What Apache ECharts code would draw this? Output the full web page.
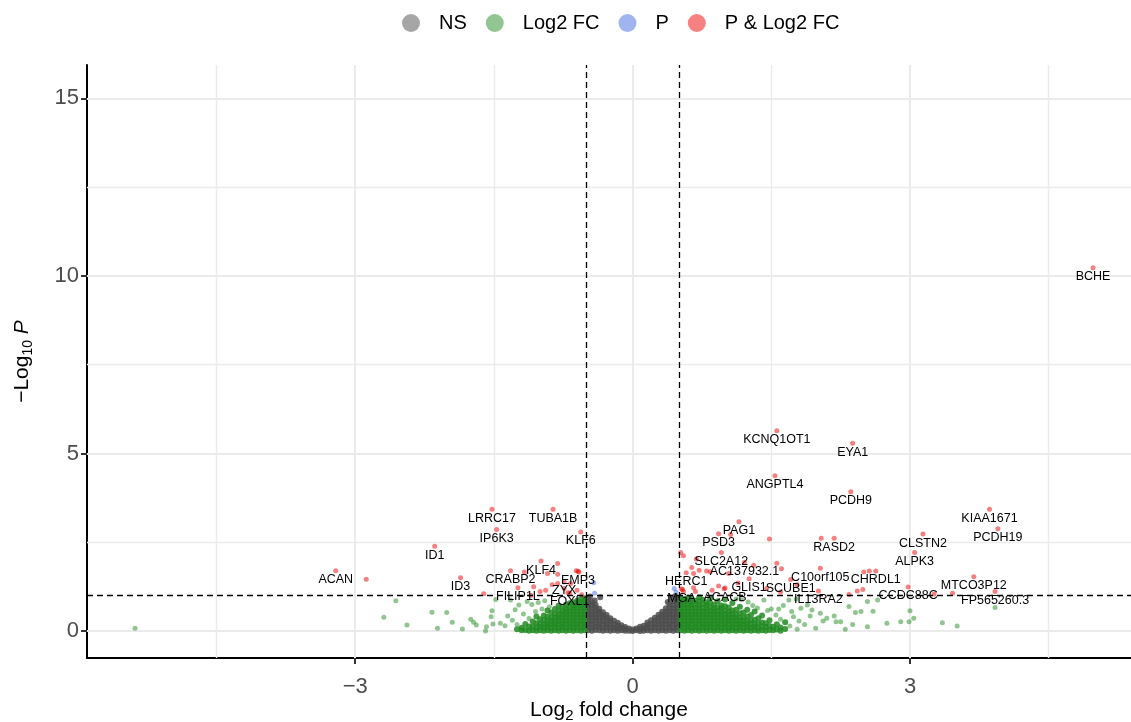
<!DOCTYPE html>
<html>
<head>
<meta charset="utf-8">
<script src="https://cdn.jsdelivr.net/npm/echarts@6/dist/echarts.min.js"></script>
<style>
  html, body { margin: 0; background: #fff; }
  #chart { width: 1131px; height: 722px; }
</style>
</head>
<body>
<div id="chart"></div>
<script>
// Axis ticks and background grid lines
const xTicks = [-3, 0, 3];
const yTicks = [0, 5, 10, 15];
const xMajorGrid = [-3, 0, 3];
const xMinorGrid = [-4.5, -1.5, 1.5, 4.5];
const yMajorGrid = [0, 5, 10, 15];
const yMinorGrid = [2.5, 7.5, 12.5];

// Cut-offs: |log2FC| > 0.5, p < 0.1
const fcCutoff = [-0.5, 0.5];
const pCutoff = [1];

// NS cloud, read column by column: [log2FC, [-log10 p ...]]
const nsColumns = [
  [-0.48, [0.02, 0.11, 0.2, 0.29, 0.38, 0.47, 0.56, 0.65, 0.74, 0.83, 0.92]],
  [-0.44, [0.01, 0.1, 0.19, 0.28, 0.37, 0.46, 0.55, 0.64, 0.73, 0.82]],
  [-0.40, [0.03, 0.12, 0.21, 0.3, 0.39, 0.48, 0.57, 0.66, 0.74]],
  [-0.36, [0.02, 0.11, 0.2, 0.29, 0.38, 0.47, 0.55, 0.63]],
  [-0.32, [0.01, 0.1, 0.19, 0.28, 0.37, 0.45, 0.53]],
  [-0.28, [0.02, 0.11, 0.2, 0.29, 0.37, 0.45]],
  [-0.24, [0.01, 0.1, 0.19, 0.28, 0.36]],
  [-0.20, [0.02, 0.1, 0.19, 0.29]],
  [-0.16, [0.01, 0.08, 0.16, 0.23]],
  [-0.12, [0.02, 0.09, 0.16]],
  [-0.08, [0.01, 0.06, 0.11]],
  [-0.04, [0.01, 0.07]],
  [0, [0, 0.04]],
  [0.04, [0.02, 0.07]],
  [0.08, [0, 0.06, 0.12]],
  [0.12, [0.01, 0.08, 0.15]],
  [0.16, [0.02, 0.09, 0.17, 0.24]],
  [0.20, [0.01, 0.1, 0.2, 0.3]],
  [0.24, [0.02, 0.11, 0.2, 0.29, 0.37]],
  [0.28, [0.01, 0.1, 0.19, 0.28, 0.37, 0.46]],
  [0.32, [0.02, 0.11, 0.2, 0.29, 0.38, 0.46, 0.54]],
  [0.36, [0.01, 0.1, 0.19, 0.28, 0.37, 0.46, 0.55, 0.64]],
  [0.40, [0.02, 0.11, 0.2, 0.29, 0.38, 0.47, 0.56, 0.65, 0.75]],
  [0.44, [0.01, 0.1, 0.19, 0.28, 0.37, 0.46, 0.55, 0.64, 0.73, 0.84]],
  [0.48, [0.02, 0.11, 0.2, 0.29, 0.38, 0.47, 0.56, 0.65, 0.74, 0.83, 0.93]],
  [-0.46, [0.97]], [-0.41, [0.86]], [-0.35, [0.95]],
  [0.38, [0.82]], [0.42, [0.94]], [0.46, [0.98]]
];

// Log2 FC only (green): dense clouds next to the cut-offs
const fcColumns = [
  [-0.52, [0.02, 0.11, 0.2, 0.29, 0.38, 0.47, 0.56, 0.65, 0.74, 0.83, 0.92]],
  [-0.56, [0.01, 0.1, 0.19, 0.28, 0.37, 0.46, 0.55, 0.64, 0.73, 0.82, 0.9]],
  [-0.60, [0.02, 0.11, 0.2, 0.29, 0.38, 0.47, 0.56, 0.65, 0.74, 0.85]],
  [-0.64, [0.01, 0.1, 0.19, 0.28, 0.37, 0.46, 0.55, 0.64, 0.72, 0.81]],
  [-0.68, [0.02, 0.11, 0.2, 0.29, 0.38, 0.47, 0.56, 0.66, 0.78]],
  [-0.72, [0.01, 0.1, 0.19, 0.28, 0.37, 0.46, 0.55, 0.63, 0.74]],
  [-0.76, [0.02, 0.11, 0.2, 0.29, 0.38, 0.47, 0.56, 0.68]],
  [-0.80, [0.01, 0.1, 0.19, 0.28, 0.37, 0.46, 0.57, 0.71]],
  [-0.84, [0.02, 0.11, 0.2, 0.29, 0.38, 0.48, 0.62]],
  [-0.88, [0.01, 0.1, 0.19, 0.28, 0.37, 0.52]],
  [-0.92, [0.02, 0.11, 0.2, 0.29, 0.4, 0.58]],
  [-0.96, [0.01, 0.1, 0.19, 0.3, 0.44]],
  [-1.00, [0.02, 0.11, 0.2, 0.33]],
  [-1.04, [0.01, 0.1, 0.22, 0.41]],
  [-1.08, [0.02, 0.12, 0.27]],
  [-1.12, [0.01, 0.13]],
  [-1.16, [0.03, 0.2]],
  [-1.20, [0.02, 0.09]],
  [-1.25, [0.05]],
  [0.52, [0.02, 0.11, 0.2, 0.29, 0.38, 0.47, 0.56, 0.65, 0.74, 0.83, 0.93]],
  [0.56, [0.01, 0.1, 0.19, 0.28, 0.37, 0.46, 0.55, 0.64, 0.73, 0.82, 0.91]],
  [0.60, [0.02, 0.11, 0.2, 0.29, 0.38, 0.47, 0.56, 0.65, 0.74, 0.84, 0.94]],
  [0.64, [0.01, 0.1, 0.19, 0.28, 0.37, 0.46, 0.55, 0.64, 0.73, 0.82, 0.9]],
  [0.68, [0.02, 0.11, 0.2, 0.29, 0.38, 0.47, 0.56, 0.65, 0.74, 0.85]],
  [0.72, [0.01, 0.1, 0.19, 0.28, 0.37, 0.46, 0.55, 0.64, 0.73, 0.83, 0.95]],
  [0.76, [0.02, 0.11, 0.2, 0.29, 0.38, 0.47, 0.56, 0.65, 0.76, 0.88]],
  [0.80, [0.01, 0.1, 0.19, 0.28, 0.37, 0.46, 0.55, 0.64, 0.73, 0.81]],
  [0.84, [0.02, 0.11, 0.2, 0.29, 0.38, 0.47, 0.56, 0.66, 0.78, 0.92]],
  [0.88, [0.01, 0.1, 0.19, 0.28, 0.37, 0.46, 0.55, 0.64, 0.75]],
  [0.92, [0.02, 0.11, 0.2, 0.29, 0.38, 0.47, 0.56, 0.67, 0.84]],
  [0.96, [0.01, 0.1, 0.19, 0.28, 0.37, 0.46, 0.55, 0.64, 0.72]],
  [1.00, [0.02, 0.11, 0.2, 0.29, 0.38, 0.47, 0.57, 0.7, 0.89]],
  [1.04, [0.01, 0.1, 0.19, 0.28, 0.37, 0.46, 0.55, 0.66]],
  [1.08, [0.02, 0.11, 0.2, 0.29, 0.38, 0.47, 0.58, 0.79]],
  [1.12, [0.01, 0.1, 0.19, 0.28, 0.37, 0.46, 0.6]],
  [1.16, [0.02, 0.11, 0.2, 0.29, 0.38, 0.5, 0.68]],
  [1.20, [0.01, 0.1, 0.19, 0.28, 0.38, 0.52]],
  [1.24, [0.02, 0.11, 0.2, 0.29, 0.41, 0.6]],
  [1.28, [0.01, 0.1, 0.19, 0.3, 0.45]],
  [1.32, [0.02, 0.11, 0.2, 0.32, 0.55]],
  [1.36, [0.01, 0.1, 0.21, 0.36]],
  [1.40, [0.02, 0.12, 0.24, 0.44]],
  [1.44, [0.01, 0.11, 0.22]],
  [1.48, [0.03, 0.14, 0.3]],
  [1.52, [0.02, 0.12]],
  [1.56, [0.04, 0.19]],
  [1.60, [0.01, 0.1]],
  [1.65, [0.06, 0.25]]
];

// Log2 FC only (green): scattered points
const fcScatter = [
  [-5.38, 0.08], [-2.69, 0.39], [-2.56, 0.85], [-2.44, 0.17], [-2.17, 0.53],
  [-2.11, 0.08], [-2.01, 0.52], [-1.95, 0.25], [-1.84, 0.06], [-1.75, 0.33],
  [-1.72, 0.25], [-1.69, 0.17], [-1.59, 0.0], [-1.58, 0.12], [-1.53, 0.4],
  [-1.52, 0.57], [-1.51, 0.2], [-1.48, 0.89], [-1.43, 0.22], [-1.38, 0.15],
  [-1.35, 0.42], [-1.32, 0.87], [-1.3, 0.3], [-1.27, 0.6], [-1.25, 0.18],
  [-1.23, 0.73], [-1.18, 0.48], [-1.14, 0.83], [-1.12, 0.35], [-1.09, 0.75],
  [-1.05, 0.55], [-1.02, 0.8], [-0.98, 0.62], [-0.95, 0.85], [-0.9, 0.68],
  [1.12, 0.9], [1.18, 0.88], [1.25, 0.82], [1.3, 0.72], [1.35, 0.65],
  [1.42, 0.87], [1.46, 0.58], [1.5, 0.62], [1.55, 0.45], [1.58, 0.62],
  [1.6, 0.33], [1.63, 0.72], [1.69, 0.87], [1.7, 0.14], [1.72, 0.55],
  [1.74, 0.4], [1.77, 0.9], [1.78, 0.05], [1.8, 0.28], [1.82, 0.64],
  [1.86, 0.18], [1.89, 0.73], [1.92, 0.42], [1.94, 0.59], [1.98, 0.08],
  [2.03, 0.5], [2.06, 0.28], [2.1, 0.36], [2.18, 0.42], [2.2, 0.26],
  [2.25, 0.26], [2.3, 0.05], [2.34, 0.69], [2.38, 0.18], [2.41, 0.52],
  [2.47, 0.55], [2.54, 0.83], [2.54, 0.12], [2.6, 0.56], [2.65, 0.87],
  [2.75, 0.22], [2.9, 0.26], [2.99, 0.26], [3.0, 0.57], [3.04, 0.36],
  [3.35, 0.23], [3.51, 0.14], [3.92, 0.66]
];

// P only (blue)
const pPoints = [[-0.42, 1.36], [-0.41, 1.06], [0.45, 1.2], [0.47, 1.1]];

// P & Log2 FC (red): [log2FC, -log10 p, label]
const sigPoints = [
  [-3.21, 1.7, 'ACAN'], [-2.88, 1.46, ''], [-2.14, 2.39, 'ID1'], [-1.86, 1.5, 'ID3'],
  [-1.61, 1.05, ''], [-1.52, 3.43, 'LRRC17'], [-1.47, 2.86, 'IP6K3'],
  [-0.86, 3.43, 'TUBA1B'], [-0.56, 2.79, 'KLF6'], [-1.32, 1.7, 'CRABP2'],
  [-1.17, 1.66, ''], [-0.99, 1.97, 'KLF4'], [-0.81, 1.9, ''], [-0.92, 1.62, ''],
  [-0.81, 1.6, ''], [-0.59, 1.68, 'EMP3'], [-0.58, 1.66, ''], [-0.61, 1.7, ''],
  [-1.24, 1.22, 'FILIP1L'], [-1.1, 1.01, ''], [-1.07, 1.25, ''], [-1.0, 1.11, ''],
  [-0.94, 1.15, ''], [-0.87, 1.3, ''], [-0.81, 1.34, ''], [-0.74, 1.38, 'ZYX'],
  [-0.74, 1.2, ''], [-0.67, 1.34, ''], [-0.6, 1.15, ''], [-0.7, 1.08, ''],
  [-0.68, 1.07, 'FOXL1'], [-0.55, 1.02, ''],
  [4.98, 10.23, 'BCHE'], [1.56, 5.64, 'KCNQ1OT1'], [2.38, 5.29, 'EYA1'],
  [1.54, 4.37, 'ANGPTL4'], [2.36, 3.92, 'PCDH9'], [3.86, 3.43, 'KIAA1671'],
  [3.95, 2.88, 'PCDH19'], [3.14, 2.73, 'CLSTN2'], [3.05, 2.21, 'ALPK3'],
  [3.69, 1.53, 'MTCO3P12'], [3.92, 1.11, 'FP565260.3'], [3.46, 1.06, ''],
  [3.26, 1.04, ''], [2.98, 1.24, 'CCDC88C'], [2.04, 2.61, ''], [2.18, 2.61, 'RASD2'],
  [1.15, 3.08, 'PAG1'], [0.93, 2.74, 'PSD3'], [1.06, 2.72, ''], [1.48, 2.59, ''],
  [0.96, 2.21, 'SLC2A12'], [0.52, 2.21, ''], [0.55, 2.12, ''], [0.69, 2.03, ''],
  [1.56, 1.91, ''], [1.31, 1.85, ''], [1.61, 1.75, ''], [0.64, 1.79, ''],
  [0.72, 1.71, ''], [0.8, 1.69, ''], [0.66, 1.62, ''], [0.84, 1.67, ''],
  [1.04, 1.62, ''], [0.58, 1.64, 'HERC1'], [1.21, 1.94, 'AC137932.1'],
  [2.03, 1.77, 'C10orf105'], [2.5, 1.66, ''], [2.56, 1.69, ''], [2.63, 1.69, 'CHRDL1'],
  [0.66, 1.22, ''], [0.86, 1.15, ''], [0.99, 1.19, ''], [0.93, 1.27, ''],
  [0.55, 1.11, ''], [0.68, 1.11, ''], [0.54, 1.17, ''], [0.53, 1.18, 'MGA'],
  [1.0, 1.21, 'ACACB'], [1.26, 1.47, 'GLIS1'], [1.14, 1.35, ''], [1.71, 1.45, 'SCUBE1'],
  [1.78, 1.3, ''], [2.01, 1.13, 'IL13RA2'], [2.34, 1.03, ''], [2.43, 1.13, ''],
  [2.49, 1.17, ''], [1.45, 1.2, ''], [1.6, 1.1, '']
];

const font = '"Liberation Sans", Arial, Helvetica, sans-serif';
const toPoints = cols => cols.flatMap(([x, ys]) => ys.map(y => [x, y]));
const minus = v => String(v).replace('-', '\u2212');

// thousands of overlapping genes make the clouds nearly opaque
const cloud = pts => pts.map(p => ({ value: p, symbolSize: 6, itemStyle: { opacity: 0.85 } }));

const gridLine = (axis, v, width) => ({
  [axis]: v,
  lineStyle: { color: '#ebebeb', width: width, type: 'solid' }
});

const chart = echarts.init(document.getElementById('chart'));

chart.setOption({
  animation: false,
  textStyle: { fontFamily: font },
  grid: { left: 87, right: 0, top: 65, bottom: 64, outerBoundsMode: 'none', containLabel: false },
  legend: {
    left: 397,
    top: 8,
    icon: 'circle',
    itemWidth: 18,
    itemHeight: 18,
    itemGap: 19,
    textStyle: { fontSize: 20, color: '#000', fontFamily: font, padding: [0, 0, 0, 14] },
    data: [
      { name: 'NS', itemStyle: { color: '#a6a6a6', opacity: 1 } },
      { name: 'Log2 FC', itemStyle: { color: '#91c591', opacity: 1 } },
      { name: 'P', itemStyle: { color: '#a0b4f0', opacity: 1 } },
      { name: 'P & Log2 FC', itemStyle: { color: '#f78080', opacity: 1 } }
    ]
  },
  xAxis: {
    type: 'value',
    min: -5.9,
    max: 5.39,
    name: '{a|Log}{s|2}{a| fold change}',
    nameLocation: 'middle',
    nameGap: 40,
    nameMoveOverlap: false,
    nameTextStyle: {
      rich: {
        a: { fontSize: 21, color: '#000', fontFamily: font },
        s: { fontSize: 15, color: '#000', fontFamily: font, padding: [10, 0, 0, 0] }
      }
    },
    axisLine: { show: true, onZero: false, lineStyle: { color: '#000', width: 2 } },
    axisTick: { show: true, customValues: xTicks, length: 6, lineStyle: { color: '#333', width: 2 } },
    axisLabel: { customValues: xTicks, formatter: minus, color: '#4d4d4d', fontSize: 22, margin: 18, fontFamily: font },
    splitLine: { show: false }
  },
  yAxis: {
    type: 'value',
    min: -0.76,
    max: 15.94,
    name: '{a|\u2212Log}{s|10}{a| }{i|P}',
    nameLocation: 'middle',
    nameRotate: 90,
    nameGap: 52,
    nameTextStyle: {
      rich: {
        a: { fontSize: 21, color: '#000', fontFamily: font },
        s: { fontSize: 14, color: '#000', fontFamily: font, padding: [12, 0, 0, 0] },
        i: { fontSize: 21, color: '#000', fontFamily: font, fontStyle: 'italic' }
      }
    },
    axisLine: { show: true, onZero: false, lineStyle: { color: '#000', width: 2 } },
    axisTick: { show: true, customValues: yTicks, length: 6, lineStyle: { color: '#333', width: 2 } },
    axisLabel: { customValues: yTicks, color: '#4d4d4d', fontSize: 22, margin: 8, fontFamily: font },
    splitLine: { show: false }
  },
  series: [
    {
      // background grid lines
      type: 'scatter',
      data: [],
      silent: true,
      z: 1,
      markLine: {
        z: 1,
        silent: true,
        symbol: 'none',
        label: { show: false },
        data: [
          ...xMajorGrid.map(v => gridLine('xAxis', v, 2)),
          ...xMinorGrid.map(v => gridLine('xAxis', v, 1.4)),
          ...yMajorGrid.map(v => gridLine('yAxis', v, 2)),
          ...yMinorGrid.map(v => gridLine('yAxis', v, 1.4))
        ]
      }
    },
    {
      name: 'NS',
      type: 'scatter',
      symbolSize: 5,
      z: 2,
      itemStyle: { color: '#4d4d4d', opacity: 0.5 },
      data: cloud(toPoints(nsColumns))
    },
    {
      name: 'Log2 FC',
      type: 'scatter',
      symbolSize: 5,
      z: 2,
      itemStyle: { color: '#228B22', opacity: 0.5 },
      data: cloud(toPoints(fcColumns)).concat(fcScatter)
    },
    {
      name: 'P',
      type: 'scatter',
      symbolSize: 5,
      z: 2,
      itemStyle: { color: '#4169E1', opacity: 0.5 },
      data: pPoints
    },
    {
      name: 'P & Log2 FC',
      type: 'scatter',
      symbolSize: 5,
      z: 3,
      itemStyle: { color: '#EE0000', opacity: 0.5 },
      label: {
        show: true,
        position: 'bottom',
        distance: 0,
        formatter: '{b}',
        color: '#000',
        opacity: 1,
        textBorderWidth: 0,
        fontSize: 12.5,
        fontFamily: font
      },
      data: sigPoints.map(([x, y, name]) => ({ value: [x, y], name: name }))
    },
    {
      // cut-off lines
      type: 'scatter',
      data: [],
      silent: true,
      z: 5,
      markLine: {
        z: 5,
        silent: true,
        symbol: 'none',
        label: { show: false },
        lineStyle: { color: '#000', width: 1.3, type: [6, 4] },
        data: [
          ...fcCutoff.map(v => ({ xAxis: v })),
          ...pCutoff.map(v => ({ yAxis: v }))
        ]
      }
    }
  ]
});
</script>
</body>
</html>
